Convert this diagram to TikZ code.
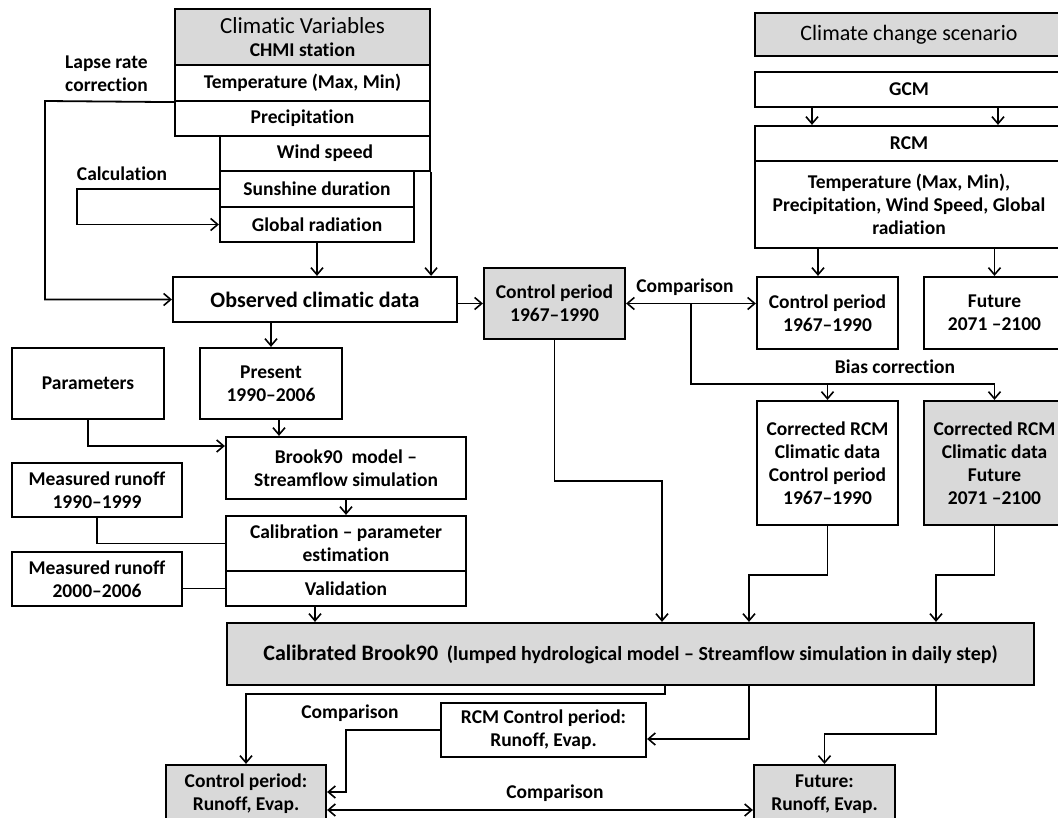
\documentclass[tikz,border=0pt]{standalone}
\usepackage{fontspec}
\setmainfont{Carlito}[Ligatures=NoCommon]
\usetikzlibrary{arrows.meta}
\definecolor{boxgray}{RGB}{217,217,217}
\newcommand\fsz{\fontsize{19.5}{23}\selectfont\bfseries}
\begin{document}
\begin{tikzpicture}[x=1pt,y=-1pt,
  box/.style={draw, line width=2.2pt, inner sep=1pt, align=center, font=\fsz},
  gbox/.style={box, fill=boxgray},
  conn/.style={line width=1.8pt},
  arr/.style={conn, -{Straight Barb[length=7pt,width=12pt,line width=1.6pt]}},
  darr/.style={conn, {Straight Barb[length=7pt,width=12pt,line width=1.6pt]}-{Straight Barb[length=7pt,width=12pt,line width=1.6pt]}},
  lbl/.style={font=\fsz, inner sep=0pt}]
\useasboundingbox (0,0) rectangle (1058,818);
% ---- left top block
\node[gbox, minimum width=255, minimum height=56] (cv) at (302.5,37)
  {{\fontsize{23}{25}\selectfont\mdseries Climatic Variables}\\CHMI station};
\node[box, minimum width=255, minimum height=36] (temp) at (302.5,83) {Temperature (Max, Min)};
\node[box, minimum width=255, minimum height=35] (precip) at (302.5,118.5) {Precipitation};
\node[box, minimum width=210, minimum height=35] (wind) at (325,153.5) {Wind speed};
\node[box, minimum width=194, minimum height=36] (sun) at (317,189) {Sunshine duration};
\node[box, minimum width=194, minimum height=35] (glob) at (317,224.5) {Global radiation};
\node[box, minimum width=284, minimum height=45, font=\fontsize{22}{25}\selectfont\bfseries] (obs) at (315,299.5) {Observed climatic data};
\node[gbox, minimum width=141, minimum height=71] (ctrlobs) at (554.5,303.5) {Control period\\1967–1990};
% ---- right top block
\node[gbox, minimum width=308, minimum height=43, font=\fontsize{22}{25}\selectfont\mdseries] (ccs) at (909,34.5) {Climate change scenario};
\node[box, minimum width=308, minimum height=35] (gcm) at (909,89.5) {GCM};
\node[box, minimum width=308, minimum height=35] (rcm) at (909,143.5) {RCM};
\node[box, minimum width=308, minimum height=87] (rcmvars) at (909,204.5) {Temperature (Max, Min),\\Precipitation, Wind Speed, Global\\radiation};
\node[box, minimum width=141, minimum height=72] (ctrlrcm) at (827.5,313) {Control period\\1967–1990};
\node[box, minimum width=141, minimum height=72] (fut) at (994.5,313) {Future\\2071 –2100};
\node[box, minimum width=141, minimum height=124] (corrctrl) at (827.5,463) {Corrected RCM\\Climatic data\\Control period\\1967–1990};
\node[gbox, minimum width=141, minimum height=124] (corrfut) at (994.5,463) {Corrected RCM\\Climatic data\\Future\\2071 –2100};
% ---- left middle block
\node[box, minimum width=142, minimum height=71] (present) at (271,383.5) {Present\\1990–2006};
\node[box, minimum width=152, minimum height=71] (params) at (88,383.5) {Parameters};
\node[box, minimum width=240, minimum height=62] (brook) at (346,468) {Brook90\ \ model –\\Streamflow simulation};
\node[box, minimum width=170, minimum height=54] (meas1) at (97,490) {Measured runoff\\1990–1999};
\node[box, minimum width=240, minimum height=55] (calib) at (346,543.5) {Calibration – parameter\\estimation};
\node[box, minimum width=240, minimum height=35] (valid) at (346,588.5) {Validation};
\node[box, minimum width=170, minimum height=54] (meas2) at (97,579) {Measured runoff\\2000–2006};
% ---- bottom block
\node[gbox, minimum width=807, minimum height=62] (calbrook) at (630.5,654)
  {{\fontsize{22}{25}\selectfont Calibrated Brook90}\ \ {\fontsize{20}{24}\selectfont (lumped hydrological model – Streamflow simulation in daily step)}};
\node[box, minimum width=205, minimum height=54] (rcmout) at (543.5,730) {RCM Control period:\\Runoff, Evap.};
\node[gbox, minimum width=160, minimum height=58] (ctrlout) at (246,794) {Control period:\\Runoff, Evap.};
\node[gbox, minimum width=141, minimum height=58] (futout) at (824.5,794) {Future:\\Runoff, Evap.};
% ---- labels
\node[lbl, anchor=west, align=left] (lapse) at (65,74) {Lapse rate\\correction};
\node[lbl] (calc) at (122,174) {Calculation};
\node[lbl] (cmp1) at (685,287) {Comparison};
\node[lbl] (biaslbl) at (895,367) {Bias correction};
\node[lbl] (cmp2) at (350,713) {Comparison};
\node[lbl] (cmp3) at (555,793) {Comparison};
% ---- connectors top left
\draw[arr] (temp.south west) -- (45,101) |- (obs.west);
\draw[arr] (sun.west) -- ++(-142,0) |- (glob.west);
\draw[arr] (glob.south) -- (glob.south |- obs.north);
\draw[arr] (wind.south east) -- (wind.south east |- obs.north);
\draw[arr] (obs.east |- ctrlobs.west) -- (ctrlobs.west);
\draw[darr] (ctrlobs.east) -- (ctrlobs.east -| ctrlrcm.west);
% ---- right
\draw[arr] ([xshift=-97pt]gcm.south) -- ([xshift=-97pt]rcm.north);
\draw[arr] ([xshift=89pt]gcm.south) -- ([xshift=89pt]rcm.north);
\draw[arr] ([xshift=-9.5pt]ctrlrcm.north |- rcmvars.south) -- ([xshift=-9.5pt]ctrlrcm.north);
\draw[arr] (fut.north |- rcmvars.south) -- (fut.north);
\coordinate (bsp) at (691,384);
\draw[conn] (bsp |- ctrlobs.east) -- (bsp) -- (bsp -| corrfut.north);
\draw[arr] (bsp -| corrfut.north) -- (corrfut.north);
\draw[arr] (bsp -| corrctrl.north) -- (corrctrl.north);
\draw[arr] (ctrlobs.south) -- ++(0,141) -| ([xshift=31.5pt]calbrook.north);
\draw[arr] (corrctrl.south) -- ++(0,49) -| ([xshift=118.5pt]calbrook.north);
\draw[arr] (corrfut.south) -- ++(0,49) -| ([xshift=305.5pt]calbrook.north);
% ---- left middle
\draw[arr] (obs.south -| present.north) -- (present.north);
\draw[arr] ([xshift=8pt]present.south) -- ([xshift=8pt]present.south |- brook.north);
\draw[arr] (params.south) |- (brook.west |- 0,446);
\draw[arr] (brook.south) -- (calib.north);
\draw[conn] (meas1.south) |- (calib.west);
\draw[conn] (meas2.east |- valid.west) -- (valid.west);
\draw[arr] ([xshift=-31pt]valid.south) -- ([xshift=-31pt]valid.south |- calbrook.north);
% ---- bottom
\draw[arr] ([xshift=34.5pt]calbrook.south) -- ++(0,8) -| (ctrlout.north);
\draw[arr] ([xshift=118.5pt]calbrook.south) |- ([yshift=-9pt]rcmout.east);
\draw[arr] (rcmout.west) -- ++(-94,0) |- ([yshift=2pt]ctrlout.east);
\draw[arr] ([xshift=305.5pt]calbrook.south) -- ++(0,48) -| (futout.north);
\draw[darr] ([yshift=-16pt]ctrlout.east) -- ([yshift=-16pt]futout.west);
\end{tikzpicture}
\end{document}
